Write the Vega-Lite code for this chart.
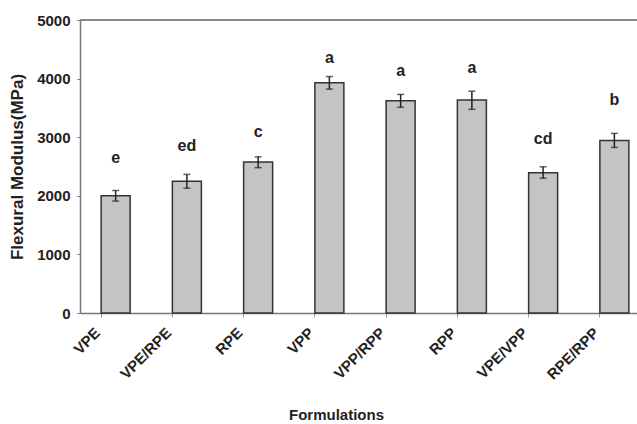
{
  "$schema": "https://vega.github.io/schema/vega-lite/v6.json",
  "autosize": {"type": "none"},
  "padding": {"left": 80, "top": 20, "right": 0, "bottom": 111},
  "width": 557,
  "height": 293,
  "background": "white",
  "config": {
    "font": "Liberation Sans",
    "view": {"stroke": null}
  },
  "data": {
    "values": [
      {"f": "VPE", "mean": 2000, "lo": 1910, "hi": 2090, "sig": "e", "sig_y": 2650},
      {"f": "VPE/RPE", "mean": 2250, "lo": 2130, "hi": 2365, "sig": "ed", "sig_y": 2850},
      {"f": "RPE", "mean": 2575, "lo": 2480, "hi": 2665, "sig": "c", "sig_y": 3090},
      {"f": "VPP", "mean": 3930, "lo": 3820, "hi": 4035, "sig": "a", "sig_y": 4350},
      {"f": "VPP/RPP", "mean": 3620, "lo": 3510, "hi": 3730, "sig": "a", "sig_y": 4130},
      {"f": "RPP", "mean": 3635, "lo": 3475, "hi": 3785, "sig": "a", "sig_y": 4180},
      {"f": "VPE/VPP", "mean": 2395, "lo": 2300, "hi": 2495, "sig": "cd", "sig_y": 2970},
      {"f": "RPE/RPP", "mean": 2945, "lo": 2825, "hi": 3065, "sig": "b", "sig_y": 3630}
    ]
  },
  "layer": [
    {
      "mark": {"type": "rule", "color": "#888888", "strokeWidth": 1.5},
      "encoding": {"y": {"datum": 5000, "type": "quantitative"}}
    },
    {
      "encoding": {
        "x": {
          "field": "f",
          "type": "nominal",
          "sort": null,
          "scale": {"range": [0, 570], "paddingInner": 0.59, "paddingOuter": 0.295},
          "axis": {
            "title": "Formulations",
            "titleFont": "Liberation Sans",
            "titleFontSize": 15,
            "titleFontWeight": "bold",
            "titleColor": "#222222",
            "titleX": 256,
            "titleY": 101,
            "titleBaseline": "middle",
            "titleAnchor": "middle",
            "labelAngle": -45,
            "labelFontSize": 15,
            "labelFontWeight": "bold",
            "labelColor": "#222222",
            "labelPadding": 8,
            "labelOffset": -23,
            "bandPosition": 0,
            "domainColor": "#777777",
            "domainWidth": 1.5,
            "tickColor": "#999999",
            "tickSize": 4
          }
        }
      },
      "layer": [
        {
          "mark": {"type": "bar", "fill": "#c4c4c4", "stroke": "#333333", "strokeWidth": 1.5, "width": 29},
          "encoding": {
            "y": {
              "field": "mean",
              "type": "quantitative",
              "scale": {"domain": [0, 5000], "nice": false},
              "axis": {
                "title": "Flexural Modulus(MPa)",
                "titleFontSize": 17,
                "titleFontWeight": "bold",
                "titleColor": "#222222",
                "titlePadding": 10,
                "values": [0, 1000, 2000, 3000, 4000, 5000],
                "format": "d",
                "labelFontSize": 15,
                "labelFontWeight": "bold",
                "labelColor": "#222222",
                "grid": false,
                "domainColor": "#777777",
                "domainWidth": 1.5,
                "tickColor": "#777777",
                "tickSize": 3,
                "labelPadding": 7
              }
            }
          }
        },
        {
          "mark": {"type": "rule", "color": "#222222", "strokeWidth": 1.5},
          "encoding": {
            "y": {"field": "lo", "type": "quantitative"},
            "y2": {"field": "hi"}
          }
        },
        {
          "mark": {"type": "tick", "color": "#222222", "thickness": 1.5, "size": 7},
          "encoding": {"y": {"field": "lo", "type": "quantitative"}}
        },
        {
          "mark": {"type": "tick", "color": "#222222", "thickness": 1.5, "size": 7},
          "encoding": {"y": {"field": "hi", "type": "quantitative"}}
        },
        {
          "mark": {"type": "text", "fontSize": 16, "fontWeight": "bold", "color": "#222222", "baseline": "middle"},
          "encoding": {
            "y": {"field": "sig_y", "type": "quantitative"},
            "text": {"field": "sig"}
          }
        }
      ]
    }
  ]
}
